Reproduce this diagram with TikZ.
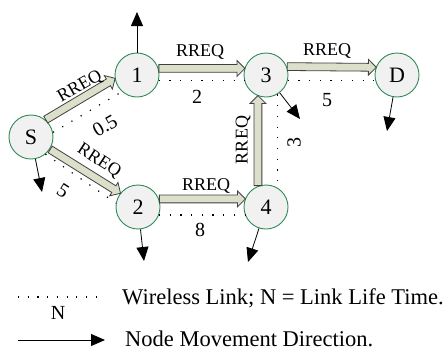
\documentclass[tikz,border=0pt]{standalone}
\usepackage{fontspec}
\setmainfont{Liberation Serif}
\usetikzlibrary{arrows.meta,shapes.arrows,calc}
\definecolor{nodegreen}{HTML}{2E8B57}
\definecolor{nodefill}{HTML}{F1F1F1}
\definecolor{arrowfill}{HTML}{DCDFCA}
\definecolor{arrowline}{HTML}{404040}
\newcommand\fatarrow[2]{\path let \p1=($(#2)-(#1)$), \n1={veclen(\x1,\y1)}, \n2={atan2(\y1,\x1)} in node[fat, anchor=tail, rotate=\n2, minimum height=\n1] at (#1) {};}
\begin{document}
\begin{tikzpicture}[x=1pt,y=-1pt,
  st/.style={circle, draw=nodegreen, fill=nodefill, line width=0.9pt, minimum size=44pt, inner sep=0pt, font=\fontsize{22}{24}\selectfont},
  fat/.style={single arrow, draw=arrowline, fill=arrowfill, line width=0.8pt, inner xsep=0pt, inner ysep=3.5pt, single arrow head extend=4pt, single arrow head indent=0pt},
  link/.style={line width=1.2pt, dash pattern=on 1.2pt off 9.5pt},
  move/.style={line width=0.8pt, -{Triangle[width=12pt,length=14pt]}},
  lbl/.style={font=\fontsize{20}{22}\selectfont, inner sep=0pt},
  rq/.style={font=\fontsize{18}{20}\selectfont, inner sep=0pt},
  leg/.style={font=\fontsize{22.5}{24}\selectfont, inner sep=0pt, anchor=west}]
\useasboundingbox (0,0) rectangle (443,351);
% nodes
\node[st] (S) at (31,137) {S};
\node[st] (n1) at (137,75) {1};
\node[st] (n3) at (266,75) {3};
\node[st] (D) at (397,75) {D};
\node[st] (n2) at (138,207) {2};
\node[st] (n4) at (266,207) {4};
% wireless links
\draw[link] (S.12) -- (n1.228);
\draw[link] (S.-50) -- (n2.170);
\draw[link] (n1.-15) -- (n3.195);
\draw[link] (n3.-15) -- (D.195);
\draw[link] (n3.300) -- (n4.60);
\draw[link] (n2.-21) -- (n4.201);
% RREQ arrows
\fatarrow{S.50}{n1.189}
\fatarrow{S.-33}{n2.142}
\fatarrow{n1.17}{n3.163}
\fatarrow{n3.22}{D.160}
\fatarrow{n2.21}{n4.159}
\fatarrow{n4.111}{n3.249}
% link labels
\node[lbl] (w13) at (197,97) {2};
\node[lbl] (w3D) at (327,100) {5};
\node[lbl,rotate=90] (w34) at (294,142) {3};
\node[lbl,rotate=30] (wS1) at (105,126) {0.5};
\node[lbl,rotate=-33] (wS2) at (63,191) {5};
\node[lbl] (w24) at (200,230) {8};
% RREQ labels
\node[rq,rotate=30] (rS1) at (80,87) {RREQ};
\node[rq,rotate=-33] (rS2) at (99,161) {RREQ};
\node[rq] (r13) at (200,52) {RREQ};
\node[rq] (r3D) at (327,51) {RREQ};
\node[rq] (r24) at (206,186) {RREQ};
\node[rq,rotate=90] (r43) at (243,140) {RREQ};
% movement
\coordinate (t1) at (137,12);
\coordinate (tS) at (42,192);
\coordinate (t2) at (144,261);
\coordinate (t4) at (248,262);
\coordinate (t3) at (300,119);
\coordinate (tD) at (387,131);
\draw[move] (n1) -- (t1);
\draw[move] (S) -- (tS);
\draw[move] (n2) -- (t2);
\draw[move] (n4) -- (t4);
\draw[move] (n3) -- (t3);
\draw[move] (D) -- (tD);
% legend
\coordinate (l1) at (18,297);
\coordinate (l2) at (98,297);
\draw[link, dash pattern=on 1.2pt off 8.5pt] (l1) -- (l2);
\node[lbl] (lN) at (58,313) {N};
\node[leg] (lt1) at (122,298) {Wireless Link; N = Link Life Time.};
\coordinate (m1) at (18,340);
\coordinate (m2) at (105,340);
\draw[move] (m1) -- (m2);
\node[leg] (lt2) at (125,339) {Node Movement Direction.};
\end{tikzpicture}
\end{document}
